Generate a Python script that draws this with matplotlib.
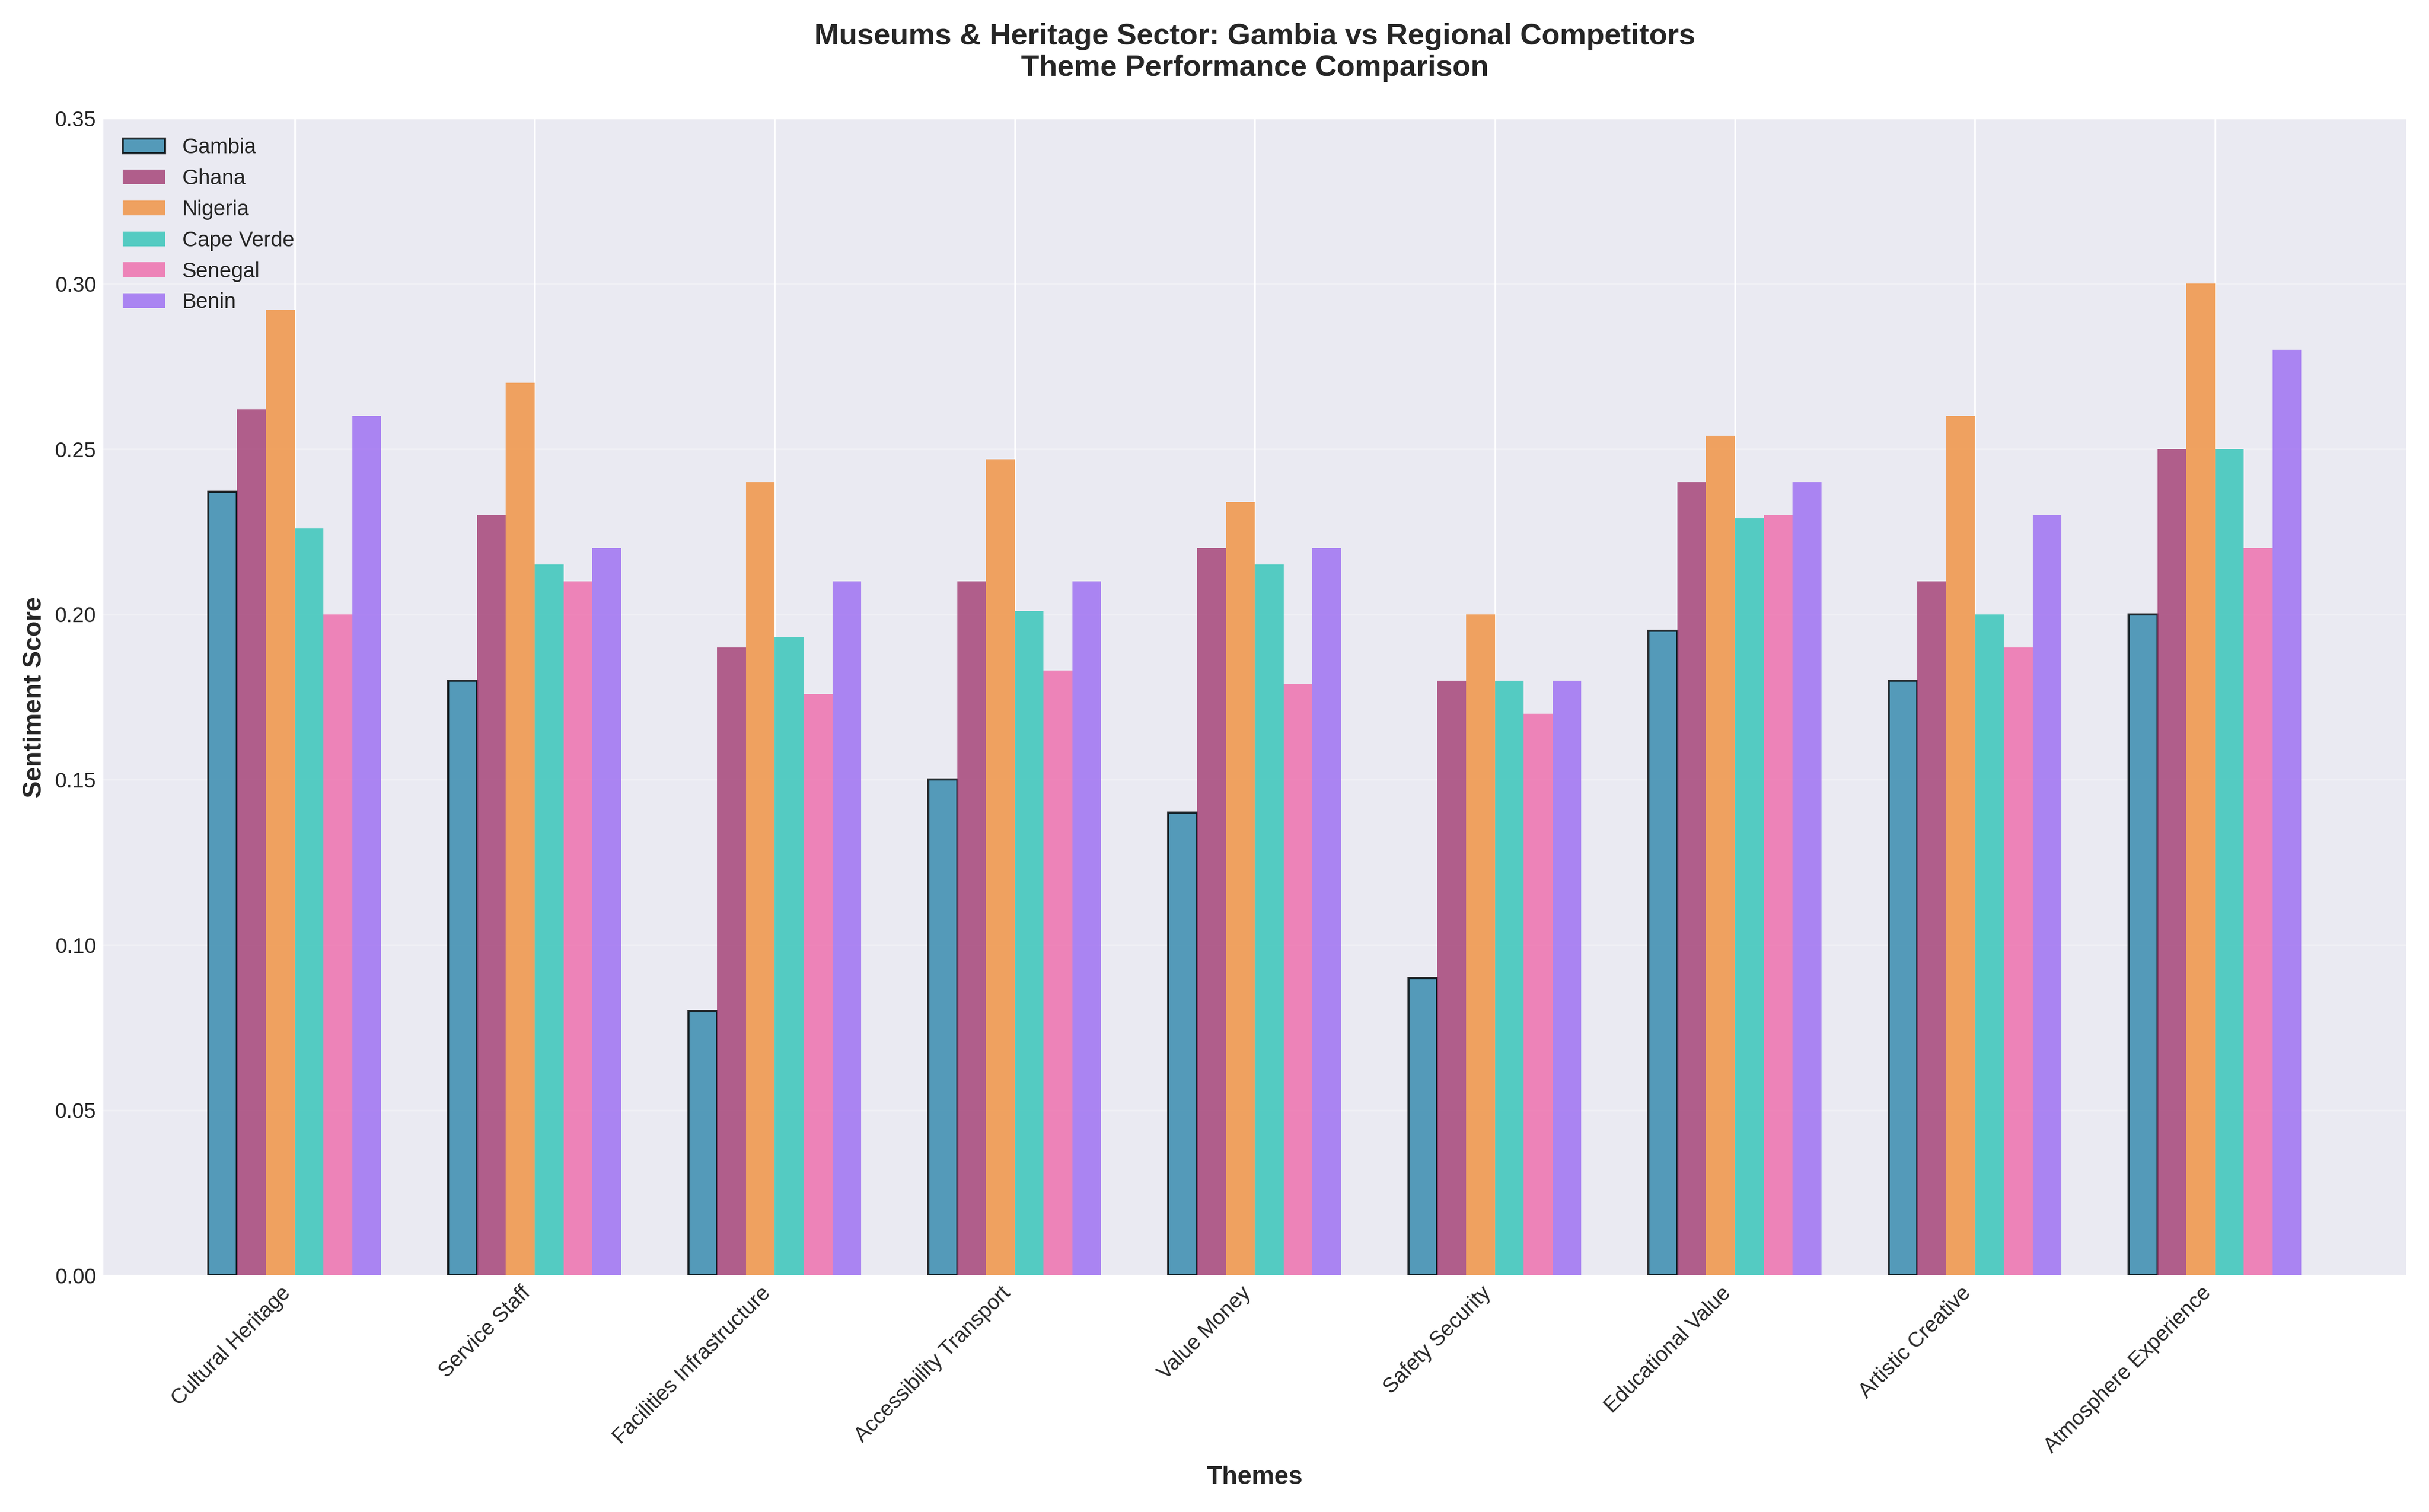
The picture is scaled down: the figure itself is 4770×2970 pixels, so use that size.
import numpy as np
import matplotlib.pyplot as plt

plt.style.use("seaborn-v0_8-darkgrid")

themes = ["Cultural Heritage", "Service Staff", "Facilities Infrastructure",
          "Accessibility Transport", "Value Money", "Safety Security",
          "Educational Value", "Artistic Creative", "Atmosphere Experience"]
countries = ["Gambia", "Ghana", "Nigeria", "Cape Verde", "Senegal", "Benin"]

gambia = [0.237, 0.18, 0.08, 0.15, 0.14, 0.09, 0.195, 0.18, 0.20]
ghana = [0.262, 0.23, 0.19, 0.21, 0.22, 0.18, 0.24, 0.21, 0.25]
nigeria = [0.292, 0.27, 0.24, 0.247, 0.234, 0.20, 0.254, 0.26, 0.30]
cape_verde = [0.226, 0.215, 0.193, 0.201, 0.215, 0.18, 0.229, 0.20, 0.25]
senegal = [0.20, 0.21, 0.176, 0.183, 0.179, 0.17, 0.23, 0.19, 0.22]
benin = [0.26, 0.22, 0.21, 0.21, 0.22, 0.18, 0.24, 0.23, 0.28]

series = [gambia, ghana, nigeria, cape_verde, senegal, benin]
colors = ["#2E86AB", "#A23B72", "#F18F3B", "#2EC4B6", "#EE6AAA", "#9B6BF2"]

fig, ax = plt.subplots(figsize=(15.9, 9.9), dpi=300)
x = np.arange(len(themes))
w = 0.12
for i, (name, vals, c) in enumerate(zip(countries, series, colors)):
    if i == 0:
        ax.bar(x + (i - 2.5) * w, vals, w, label=name, color=c, alpha=0.8,
               edgecolor="black", linewidth=1)
    else:
        ax.bar(x + (i - 2.5) * w, vals, w, label=name, color=c, alpha=0.8)

ax.set_xticks(x)
ax.set_xticklabels(themes, rotation=45, ha="right")
ax.set_ylim(0, 0.35)
ax.set_xlabel("Themes", fontweight="bold", fontsize=12)
ax.set_ylabel("Sentiment Score", fontweight="bold", fontsize=12)
ax.set_title("Museums & Heritage Sector: Gambia vs Regional Competitors\nTheme Performance Comparison",
             fontweight="bold", fontsize=14, pad=20)
ax.legend(loc="upper left")
ax.grid(axis="y", alpha=0.3)
plt.tight_layout()
plt.savefig("out.png", dpi=300)
